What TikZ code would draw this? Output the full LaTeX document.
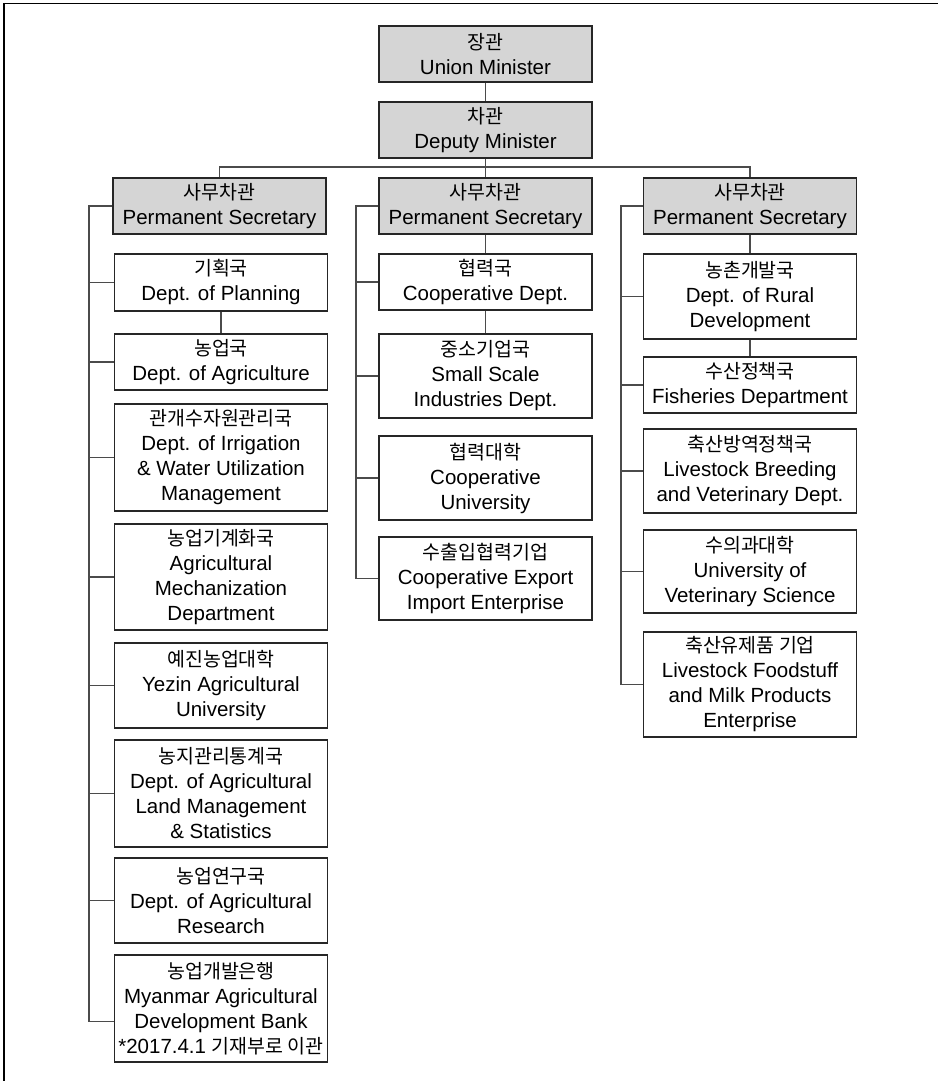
\documentclass[tikz,border=0pt]{standalone}
\usepackage{fontspec}
\setmainfont{Liberation Sans}
\newfontfamily\kr[Scale=0.95]{Noto Sans CJK KR}
\usetikzlibrary{calc}
\definecolor{bossgray}{RGB}{213,213,213}
\definecolor{linegray}{RGB}{75,75,75}

\begin{document}
\begin{tikzpicture}[x=1pt, y=-1pt, font=\fontsize{20.5}{25}\selectfont,
    unit/.style={draw=black!85, line width=1.4pt, minimum width=213pt, inner sep=0pt, align=center},
    boss/.style={unit, fill=bossgray, minimum height=56pt},
    link/.style={draw=linegray, line width=1.1pt}]
    \useasboundingbox (0,0) rectangle (938,1081);
    \draw[line width=1.6pt] (4,1081) -- (4,3.5) -- (938,3.5);

    % Top: minister, deputy and the three secretaries
    \node[boss] (union) at (485.5,54) {{\kr 장관}\\Union Minister};
    \node[boss] (deputy) at (485.5,130) {{\kr 차관}\\Deputy Minister};
    \node[boss] (ps-l) at (219.5,206) {{\kr 사무차관}\\Permanent Secretary};
    \node[boss] (ps-m) at (485.5,206) {{\kr 사무차관}\\Permanent Secretary};
    \node[boss] (ps-r) at (750,206) {{\kr 사무차관}\\Permanent Secretary};
    \coordinate (bar) at (485.5,167);
    \draw[link] (union) -- (deputy);
    \draw[link] (deputy) -- (ps-m);
    \draw[link] (ps-l.north) |- (bar) -| (ps-r.north);

    % Left column
    \node[unit, minimum height=57pt] (plan) at (221,282.5) {{\kr 기획국}\\Dept. of Planning};
    \node[unit, minimum height=56pt] (agri) at (221,362) {{\kr 농업국}\\Dept. of Agriculture};
    \node[unit, minimum height=107pt] (irri) at (221,457.5) {{\kr 관개수자원관리국}\\Dept. of Irrigation\\\& Water Utilization\\Management};
    \node[unit, minimum height=106pt] (mech) at (221,577) {{\kr 농업기계화국}\\Agricultural\\Mechanization\\Department};
    \node[unit, minimum height=85pt] (yezin) at (221,685.5) {{\kr 예진농업대학}\\Yezin Agricultural\\University};
    \node[unit, minimum height=107pt] (land) at (221,793.5) {{\kr 농지관리통계국}\\Dept. of Agricultural\\Land Management\\\& Statistics};
    \node[unit, minimum height=85pt] (research) at (221,900.5) {{\kr 농업연구국}\\Dept. of Agricultural\\Research};
    \node[unit, minimum height=107pt] (bank) at (221,1008.5) {{\kr 농업개발은행}\\Myanmar Agricultural\\Development Bank\\*2017.4.1 {\kr 기재부로 이관}};
    \coordinate (spine-l) at (89,0);
    \coordinate (bank-tick) at ($(bank.south west)!0.383!(bank.north west)$);
    \draw[link] (ps-l.west) -| (spine-l |- bank-tick) -- (bank-tick);
    \foreach \b in {plan,agri,irri,mech,yezin,land,research}
        \draw[link] (\b.west) -- (\b.west -| spine-l);
    \draw[link] (plan) -- (agri);

    % Middle column
    \node[unit, minimum height=56pt] (coop) at (485.5,282) {{\kr 협력국}\\Cooperative Dept.};
    \node[unit, minimum height=84pt] (sme) at (485.5,376) {{\kr 중소기업국}\\Small Scale\\Industries Dept.};
    \node[unit, minimum height=84pt] (coopuni) at (485.5,478) {{\kr 협력대학}\\Cooperative\\University};
    \node[unit, minimum height=83pt] (export) at (485.5,578.5) {{\kr 수출입협력기업}\\Cooperative Export\\Import Enterprise};
    \coordinate (spine-m) at (356,0);
    \draw[link] (ps-m.west) -| (spine-m |- export.west) -- (export.west);
    \foreach \b in {coop,sme,coopuni}
        \draw[link] (\b.west) -- (\b.west -| spine-m);
    \draw[link] (ps-m) -- (coop);
    \draw[link] (coop) -- (sme);

    % Right column
    \node[unit, minimum height=85pt] (rural) at (750,296.5) {{\kr 농촌개발국}\\Dept. of Rural\\Development};
    \node[unit, minimum height=56pt] (fish) at (750,385) {{\kr 수산정책국}\\Fisheries Department};
    \node[unit, minimum height=84pt] (vet) at (750,471) {{\kr 축산방역정책국}\\Livestock Breeding\\and Veterinary Dept.};
    \node[unit, minimum height=83pt] (vetuni) at (750,571.5) {{\kr 수의과대학}\\University of\\Veterinary Science};
    \node[unit, minimum height=105pt] (milk) at (750,684.5) {{\kr 축산유제품 기업}\\Livestock Foodstuff\\and Milk Products\\Enterprise};
    \coordinate (spine-r) at (621,0);
    \draw[link] (ps-r.west) -| (spine-r |- milk.west) -- (milk.west);
    \foreach \b in {rural,fish,vet,vetuni}
        \draw[link] (\b.west) -- (\b.west -| spine-r);
    \draw[link] (ps-r) -- (rural);
    \draw[link] (rural) -- (fish);
\end{tikzpicture}
\end{document}
